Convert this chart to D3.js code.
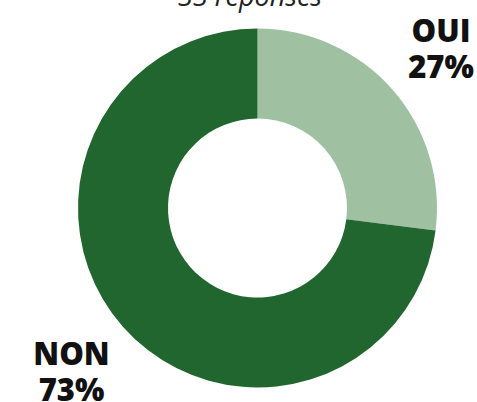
<!DOCTYPE html>
<html>
<head>
<meta charset="utf-8">
<script src="https://cdn.jsdelivr.net/npm/d3@7"></script>
<style>
  body { margin: 0; background: #fff; }
  svg { display: block; }
</style>
</head>
<body>
<div class="chart"></div>
<script>
// data
const categories = ["OUI", "NON"]
const values = [27, 73]
const percentLabels = ["27%", "73%"]
const subtitle = "33 réponses"

const w = 477
const h = 402
const cx = 257.5
const cy = 208
const outerR = 179.5
const innerR = 89.5

const colors = d3.scaleOrdinal()
  .domain(categories)
  .range(["#a0c0a2", "#22662f"])

const svg = d3.select(".chart")
  .append("svg")
  .attr("width", w)
  .attr("height", h)

// subtitle, cut off at the top like in the source
svg.append("text")
  .attr("x", 250)
  .attr("y", 6)
  .attr("text-anchor", "middle")
  .style("font-family", "'Open Sans', sans-serif")
  .style("font-style", "italic")
  .style("font-size", "27px")
  .style("fill", "#222")
  .text(subtitle)

const pie = d3.pie().sort(null).value(d => d)
const arc = d3.arc().innerRadius(innerR).outerRadius(outerR)

const g = svg.append("g")
  .attr("transform", "translate(" + cx + "," + cy + ")")

g.selectAll("path")
  .data(pie(values))
  .enter()
  .append("path")
  .attr("d", arc)
  .attr("fill", (d, i) => colors(categories[i]))

// labels
const labelPos = [[441, 42], [71.5, 365]]
const labels = svg.selectAll(".lbl")
  .data(categories)
  .enter()
  .append("text")
  .attr("class", "lbl")
  .attr("text-anchor", "middle")
  .style("font-family", "'Open Sans', sans-serif")
  .style("font-weight", "800")
  .style("font-size", "31px")
  .style("fill", "#111")

labels.append("tspan")
  .attr("x", (d, i) => labelPos[i][0])
  .attr("y", (d, i) => labelPos[i][1])
  .text(d => d)

labels.append("tspan")
  .attr("x", (d, i) => labelPos[i][0])
  .attr("y", (d, i) => labelPos[i][1] + 36)
  .text((d, i) => percentLabels[i])
</script>
</body>
</html>
